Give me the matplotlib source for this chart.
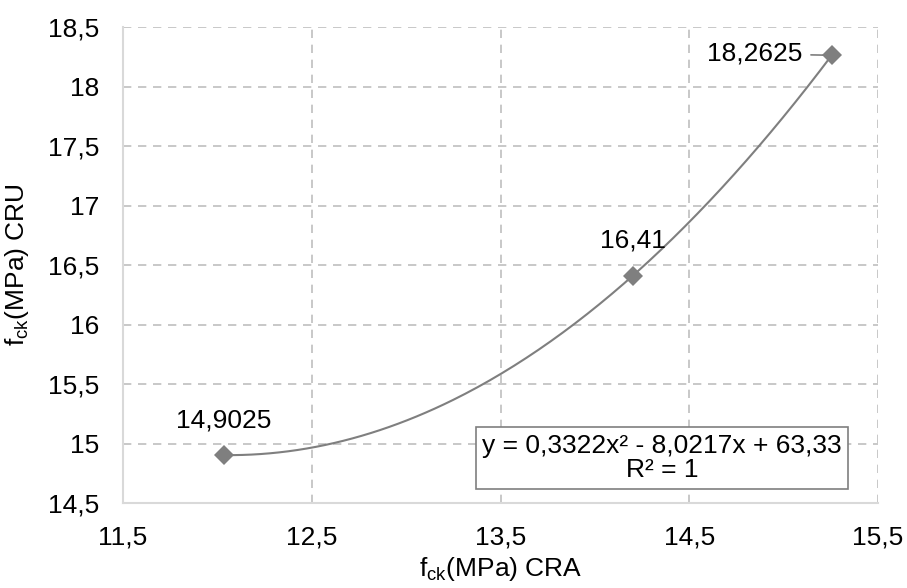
import numpy as np
import matplotlib
matplotlib.use("Agg")
from matplotlib import pyplot as plt

plt.rcParams['font.family'] = ['Liberation Sans', 'DejaVu Sans']

cra = [12.035, 14.201, 15.255]
cru = [14.9025, 16.41, 18.2625]
point_labels = ['14,9025', '16,41', '18,2625']
x_ticks = [11.5, 12.5, 13.5, 14.5, 15.5]
y_ticks = [14.5, 15, 15.5, 16, 16.5, 17, 17.5, 18, 18.5]


def comma(v):
    s = ('%g' % v)
    return s.replace('.', ',')


fig = plt.figure(figsize=(9.07, 5.88), dpi=100)
ax = fig.add_axes([123 / 907, 85 / 588, 755 / 907, 476 / 588])

gray = '#7f7f7f'
grid = '#bfbfbf'
fs = 19

# polynomial trendline (order 2)
coef = np.polyfit(cra, cru, 2)
xs = np.linspace(min(cra), max(cra), 200)
ax.plot(xs, np.polyval(coef, xs), color=gray, lw=1.5, zorder=3)
ax.plot(cra, cru, 'D', color=gray, ms=10, zorder=4, markeredgewidth=0)

ax.set_xlim(11.5, 15.5)
ax.set_ylim(14.5, 18.5)
ax.set_xticks(x_ticks)
ax.set_yticks(y_ticks)
ax.set_xticklabels([comma(v) for v in x_ticks])
ax.set_yticklabels([comma(v) for v in y_ticks])
ax.tick_params(length=0, labelsize=fs, pad=16, colors='#000000')
ax.tick_params(axis='y', pad=17)

ax.grid(True, color=grid, ls=(0, (5, 4)), lw=1.2)
for s in ['top', 'right']:
    ax.spines[s].set_visible(False)
for s in ['left', 'bottom']:
    ax.spines[s].set_color('#d9d9d9')
    ax.spines[s].set_linewidth(1.5)

# data labels
ax.annotate(point_labels[0], (cra[0], cru[0]), xytext=(0, 25), textcoords='offset points',
            ha='center', va='center', fontsize=fs)
ax.annotate(point_labels[1], (cra[1], cru[1]), xytext=(0, 25), textcoords='offset points',
            ha='center', va='center', fontsize=fs)
ax.annotate(point_labels[2], (cra[2], cru[2]), xytext=(-21, 1), textcoords='offset points',
            ha='right', va='center', fontsize=fs,
            arrowprops=dict(arrowstyle='-', color=gray, lw=1.2, shrinkA=4, shrinkB=3))

ax.text(0.714, 0.0945, 'y = 0,3322x² - 8,0217x + 63,33\nR² = 1', transform=ax.transAxes,
        ha='center', va='center', fontsize=fs, linespacing=1.05,
        bbox=dict(boxstyle='square,pad=0.25', fc='white', ec=gray, lw=1.2), zorder=5)

ax.set_xlabel(r'f$\mathregular{_{ck}}$(MPa) CRA', fontsize=fs, labelpad=4)
ax.set_ylabel(r'f$\mathregular{_{ck}}$(MPa) CRU', fontsize=fs, labelpad=12)

fig.savefig('out.png', dpi=100)
